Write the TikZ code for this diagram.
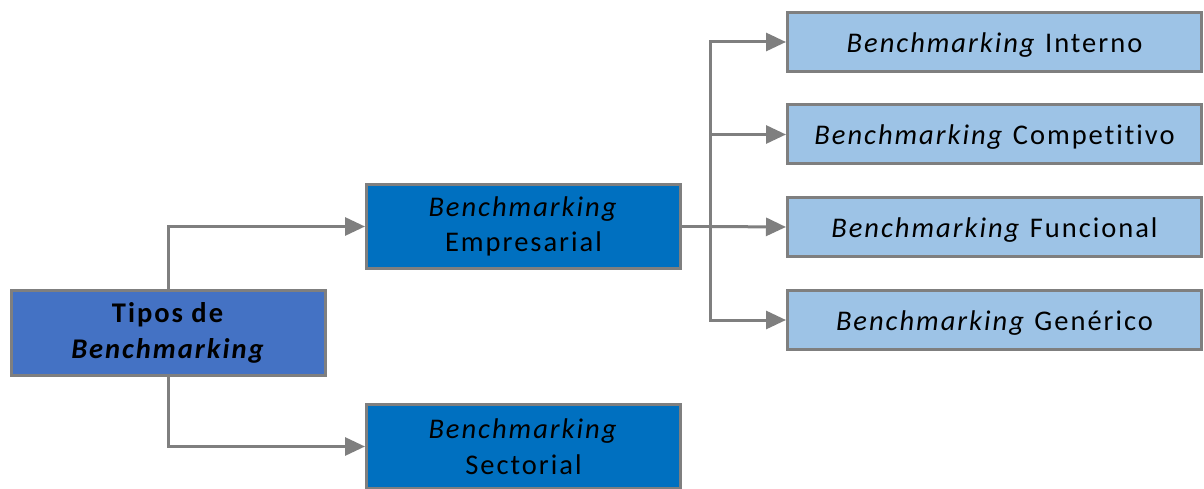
\documentclass[tikz,border=0pt]{standalone}
\usepackage{fontspec}
\setmainfont[LetterSpace=7,Ligatures=CommonOff]{Carlito}
\usetikzlibrary{arrows.meta}
\definecolor{linegray}{HTML}{7F7F7F}
\definecolor{rootblue}{HTML}{4472C4}
\definecolor{midblue}{HTML}{0070C0}
\definecolor{lightblue}{HTML}{9DC3E6}
\begin{document}
\begin{tikzpicture}[x=1pt,y=-1pt,
  box/.style={draw=linegray, line width=3pt, inner sep=0pt, align=center,
    text=black, font=\fontsize{28.5}{35.5}\selectfont},
  rootbox/.style={box, fill=rootblue, minimum width=314pt, minimum height=85pt},
  midbox/.style={box, fill=midblue, minimum width=314pt, minimum height=84pt},
  leafbox/.style={box, fill=lightblue, minimum width=414pt, minimum height=59pt,
    text height=21pt, text depth=0pt},
  wire/.style={draw=linegray, line width=3pt},
  conn/.style={wire, -{Triangle[length=20pt,width=18pt]}},
]
\useasboundingbox (0,0) rectangle (1204,489);

% boxes
\node[rootbox] (root) at (168.5,333) {\textbf{Tipos de}\\\textbf{\textit{Benchmarking}}};
\node[midbox] (emp) at (523.5,226.5) {\textit{Benchmarking}\\Empresarial};
\node[midbox] (sec) at (523.5,446.5) {\textit{Benchmarking}\\Sectorial};
\node[leafbox] (int) at (994.5,42) {\textit{Benchmarking} Interno};
\node[leafbox] (com) at (994.5,134.5) {\textit{Benchmarking} Competitivo};
\node[leafbox] (fun) at (994.5,227) {\textit{Benchmarking} Funcional};
\node[leafbox] (gen) at (994.5,320) {\textit{Benchmarking} Genérico};

% connectors from the root
\draw[conn] (root.north) |- (emp.west);
\draw[conn] (root.south) |- (sec.west);

% branching from the company-level box
\coordinate (j) at (710,226.5);
\draw[wire] (emp.east) -- (j);
\draw[conn] (j) |- (int.west);
\draw[conn] (j) |- (com.west);
\draw[conn] (j) -- (fun.west);
\draw[conn] (j) |- (gen.west);
\end{tikzpicture}
\end{document}
